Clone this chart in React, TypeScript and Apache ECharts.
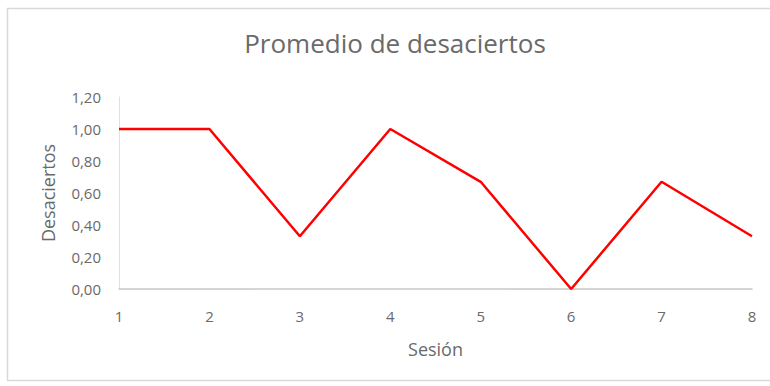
import React, { useEffect, useRef } from "react";
import * as echarts from "echarts";

const sessions = ["1", "2", "3", "4", "5", "6", "7", "8"];
const desaciertos = [1.0, 1.0, 0.33, 1.0, 0.67, 0.0, 0.67, 0.33];
const chartTitle = "Promedio de desaciertos";
const xName = "Sesión";
const yName = "Desaciertos";

export default function App() {
  const ref = useRef<HTMLDivElement>(null);
  useEffect(() => {
    if (!ref.current) return;
    const chart = echarts.init(ref.current, null, { renderer: "svg" });
    const font = "'Open Sans', 'Liberation Sans', sans-serif";
    chart.setOption({
      animation: false,
      backgroundColor: "#ffffff",
      textStyle: { fontFamily: font },
      graphic: [
        {
          type: "rect",
          shape: { x: 7.5, y: 8.5, width: 800, height: 372 },
          style: { fill: "none", stroke: "#d9d9d9", lineWidth: 1.5 },
          silent: true,
        },
        {
          type: "text",
          x: 395,
          y: 30,
          style: {
            text: chartTitle,
            textAlign: "center",
            textVerticalAlign: "top",
            fontFamily: font,
            fontSize: 26,
            fill: "#6a6a6a",
          },
          silent: true,
        },
      ],
      grid: { left: 119, right: 18, top: 97, bottom: 97, containLabel: false },
      xAxis: {
        type: "category",
        data: sessions,
        boundaryGap: false,
        name: xName,
        nameLocation: "middle",
        nameGap: 51,
        nameTextStyle: { fontFamily: font, fontSize: 18, color: "#6a6a6a" },
        axisLine: { lineStyle: { color: "#c8c8c8", width: 1.5 } },
        axisTick: { show: false },
        axisLabel: { margin: 19, fontSize: 15, color: "#6a6a6a", fontFamily: font },
        splitLine: { show: false },
      },
      yAxis: {
        type: "value",
        min: 0,
        max: 1.2,
        interval: 0.2,
        name: yName,
        nameLocation: "middle",
        nameGap: 62,
        nameTextStyle: { fontFamily: font, fontSize: 18, color: "#6a6a6a" },
        axisLine: { show: true, lineStyle: { color: "#e0e0e0", width: 1 } },
        axisTick: { show: false },
        axisLabel: {
          margin: 18,
          fontSize: 15,
          color: "#6a6a6a",
          fontFamily: font,
          formatter: (v: number) => v.toFixed(2).replace(".", ","),
        },
        splitLine: { show: false },
      },
      series: [
        {
          type: "line",
          data: desaciertos,
          showSymbol: false,
          symbol: "none",
          lineStyle: { color: "#ff0000", width: 2.5 },
          itemStyle: { color: "#ff0000" },
        },
      ],
    });
    return () => chart.dispose();
  }, []);
  return (
    <div
      ref={ref}
      style={{ position: "fixed", left: 0, top: 0, width: 770, height: 386 }}
    />
  );
}
